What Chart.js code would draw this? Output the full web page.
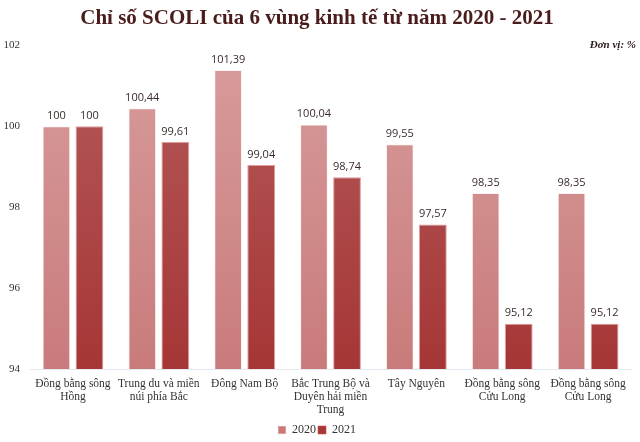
<!DOCTYPE html>
<html>
<head>
<meta charset="utf-8">
<script src="https://cdn.jsdelivr.net/npm/chart.js@4"></script>
<style>
  html, body { margin: 0; padding: 0; background: #fff; }
  #wrap { width: 640px; height: 442px; position: relative; }
</style>
</head>
<body>
<div id="wrap"><canvas id="chart"></canvas></div>
<script>
const regions = [
  ['Đồng bằng sông', 'Hồng'],
  ['Trung du và miền', 'núi phía Bắc'],
  ['Đông Nam Bộ'],
  ['Bắc Trung Bộ và', 'Duyên hải miền', 'Trung'],
  ['Tây Nguyên'],
  ['Đồng bằng sông', 'Cửu Long'],
  ['Đồng bằng sông', 'Cửu Long']
];
const values2020 = [100, 100.44, 101.39, 100.04, 99.55, 98.35, 98.35];
const values2021 = [100, 99.61, 99.04, 98.74, 97.57, 95.12, 95.12];
const yTicks = [94, 96, 98, 100, 102];

const serif = '"Liberation Serif", "DejaVu Serif", serif';

function gradientFill(top, bottom) {
  return function (ctx) {
    const area = ctx.chart.chartArea;
    if (!area) return bottom;
    const g = ctx.chart.ctx.createLinearGradient(0, area.top, 0, area.bottom);
    g.addColorStop(0, top);
    g.addColorStop(1, bottom);
    return g;
  };
}

// draws the value above each bar and the unit note
const valueLabels = {
  id: 'valueLabels',
  afterDatasetsDraw(chart) {
    const ctx = chart.ctx;
    ctx.save();
    ctx.font = '11px "Open Sans", "DejaVu Sans", sans-serif';
    ctx.fillStyle = '#3d2b2b';
    ctx.textAlign = 'center';
    ctx.textBaseline = 'bottom';
    chart.data.datasets.forEach((ds, i) => {
      chart.getDatasetMeta(i).data.forEach((bar, j) => {
        const txt = String(ds.data[j]).replace('.', ',');
        ctx.fillText(txt, bar.x, bar.y - 5);
      });
    });
    ctx.font = 'italic bold 11px ' + serif;
    ctx.fillStyle = '#2b1a1a';
    ctx.textAlign = 'right';
    ctx.textBaseline = 'middle';
    ctx.fillText('Đơn vị: %', 636, 45);
    ctx.restore();
  }
};

new Chart(document.getElementById('chart'), {
  type: 'bar',
  data: {
    labels: regions,
    datasets: [
      {
        label: '2020',
        data: values2020,
        backgroundColor: gradientFill('#d89c9c', '#c97b7b'),
        borderColor: 'rgba(255,235,235,0.6)',
        borderWidth: 1
      },
      {
        label: '2021',
        data: values2021,
        backgroundColor: gradientFill('#b45a5a', '#a63636'),
        borderColor: 'rgba(200,90,90,0.6)',
        borderWidth: 1
      }
    ]
  },
  options: {
    responsive: true,
    maintainAspectRatio: false,
    animation: false,
    layout: { padding: { left: 3, right: 9, top: 0, bottom: -4 } },
    datasets: {
      bar: { categoryPercentage: 0.77, barPercentage: 0.84 }
    },
    scales: {
      x: {
        afterFit(axis) { axis.height = 53; },
        grid: { display: false, drawTicks: false },
        border: { display: true, color: '#e4e9f1' },
        ticks: {
          color: '#333',
          font: { family: serif, size: 11.5, lineHeight: 1.1 },
          maxRotation: 0,
          autoSkip: false,
          padding: 9
        }
      },
      y: {
        min: 94,
        max: 102,
        afterBuildTicks(axis) { axis.ticks = yTicks.map(v => ({ value: v })); },
        afterFit(axis) { axis.width = 27; },
        grid: { display: false, drawTicks: false },
        border: { display: false },
        ticks: {
          color: '#333',
          font: { family: serif, size: 11 },
          padding: 10
        }
      }
    },
    plugins: {
      title: {
        display: true,
        text: 'Chỉ số SCOLI của 6 vùng kinh tế từ năm 2020 - 2021',
        color: '#4a1c1c',
        font: { family: serif, size: 21, weight: 'bold' },
        padding: { top: 6, bottom: 14 }
      },
      legend: {
        position: 'bottom',
        labels: {
          boxWidth: 8,
          boxHeight: 8,
          padding: 2,
          color: '#333',
          font: { family: serif, size: 12 }
        }
      },
      tooltip: { enabled: false }
    }
  },
  plugins: [valueLabels]
});
</script>
</body>
</html>
